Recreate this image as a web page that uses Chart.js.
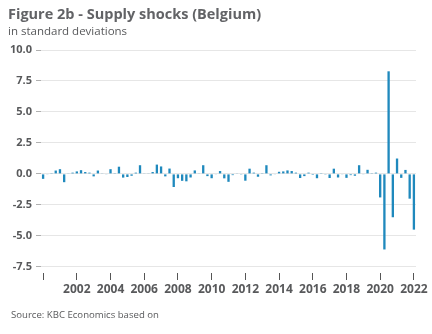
<!DOCTYPE html>
<html>
<head>
<meta charset="utf-8">
<script src="https://cdn.jsdelivr.net/npm/chart.js@4/dist/chart.umd.min.js"></script>
<style>
  body { margin: 0; background: #fff; }
  #wrap { position: relative; width: 432px; height: 334px; overflow: hidden; font-family: "Open Sans", sans-serif; }
  #chart { position: absolute; left: 0; top: 0; }
  .txt { position: absolute; white-space: nowrap; }
  #title { left: 8px; top: 4px; font-size: 14.5px; font-weight: bold; color: #626366; }
  #subtitle { left: 8px; top: 23px; font-size: 11.5px; color: #58595b; }
  #source { left: 11px; top: 308px; font-size: 9.6px; color: #58595b; }
</style>
</head>
<body>
<div id="wrap">
  <canvas id="chart" width="432" height="334"></canvas>
  <div class="txt" id="title">Figure 2b - Supply shocks (Belgium)</div>
  <div class="txt" id="subtitle">in standard deviations</div>
  <div class="txt" id="source">Source: KBC Economics based on</div>
</div>
<script>
// kwartalen 2000Q1 - 2022Q1
const startYear = 2000;
const endYear = 2022;
const quarters = [];
for (let y = startYear; y <= endYear; y++) {
  for (let q = 1; q <= 4; q++) {
    if (y === endYear && q > 1) break;
    quarters.push(y + 'Q' + q);
  }
}

const shocks = [
  -0.40, -0.03, 0.02, 0.27, 0.38, -0.67, 0.05, 0.10, 0.20, 0.30,
  0.15, 0.10, -0.20, 0.27, 0.03, -0.03, 0.38, 0.02, 0.58, -0.30,
  -0.25, -0.15, 0.10, 0.70, 0.05, 0.03, 0.15, 0.75, 0.60, -0.20,
  0.43, -1.06, -0.35, -0.56, -0.60, -0.29, 0.28, 0.05, 0.70, -0.18,
  -0.35, -0.05, 0.23, -0.36, -0.64, -0.10, 0.03, -0.02, -0.55, 0.42,
  0.10, -0.23, 0.02, 0.70, -0.12, -0.05, 0.17, 0.20, 0.28, 0.23,
  0.10, -0.33, -0.18, 0.10, -0.08, -0.35, 0.02, -0.02, -0.33, 0.42,
  -0.29, -0.03, -0.32, -0.10, -0.15, 0.70, -0.05, 0.33, 0.02, 0.10,
  -1.90, -6.10, 8.28, -3.50, 1.24, -0.32, 0.32, -2.00, -4.50
];

const yTicks = [-7.5, -5, -2.5, 0, 2.5, 5, 7.5, 10];
const xTickYears = [2000, 2002, 2004, 2006, 2008, 2010, 2012, 2014, 2016, 2018, 2020, 2022];

const labelColor = '#58595b';
const barColor = '#1f89bd';

new Chart(document.getElementById('chart').getContext('2d'), {
  type: 'bar',
  data: {
    labels: quarters,
    datasets: [{
      data: shocks,
      backgroundColor: barColor,
      barPercentage: 0.55,
      categoryPercentage: 1
    }]
  },
  options: {
    responsive: false,
    animation: false,
    layout: { padding: { top: 50, right: 16, bottom: 31, left: 0 } },
    plugins: {
      legend: { display: false },
      tooltip: { enabled: false }
    },
    scales: {
      x: {
        grid: { offset: false, drawOnChartArea: false, drawTicks: true, tickLength: 7, color: '#555' },
        border: { display: false },
        afterFit: s => { s.height = 30; },
        ticks: {
          autoSkip: false,
          maxRotation: 0,
          padding: 2,
          color: labelColor,
          font: { family: 'Open Sans', size: 12, weight: 'bold' },
          callback: function (v) {
            const lab = quarters[v];
            const yr = parseInt(lab.slice(0, 4));
            if (!lab.endsWith('Q1') || !xTickYears.includes(yr)) return null;
            return yr === startYear ? '' : String(yr);
          }
        }
      },
      y: {
        min: -8,
        max: 10,
        afterBuildTicks: s => { s.ticks = yTicks.map(v => ({ value: v })); },
        afterFit: s => { s.width = 41; },
        grid: { color: '#e6e6e6', tickLength: 5, tickColor: '#b0b0b0' },
        border: { display: false },
        ticks: {
          padding: 4,
          color: labelColor,
          font: { family: 'Open Sans', size: 11, weight: 'bold' },
          callback: v => v.toFixed(1)
        }
      }
    }
  }
});
</script>
</body>
</html>
